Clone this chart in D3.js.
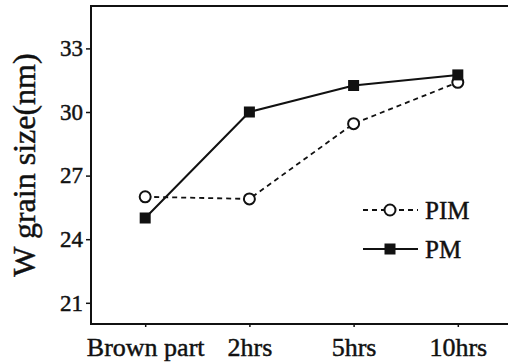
<!DOCTYPE html>
<html>
<head>
<meta charset="utf-8">
<script src="https://cdn.jsdelivr.net/npm/d3@7"></script>
<style>
  body { margin: 0; background: #fff; }
  text { font-family: "Liberation Serif", "Times New Roman", serif; fill: #111; stroke: #111; stroke-width: 0.45px; }
</style>
</head>
<body>
<div id="chart"></div>
<script>
// data
const categories = ['Brown part', '2hrs', '5hrs', '10hrs'];
const pimValues = [26.0, 25.9, 29.45, 31.4];
const pmValues = [25.0, 30.0, 31.25, 31.75];
const yTicks = [21, 24, 27, 30, 33];
const seriesNames = ['PIM', 'PM'];

const W = 508, H = 364;
const margin = { left: 91, top: 6, right: -4, bottom: 40 };

const svg = d3.select('#chart').append('svg')
  .attr('width', W)
  .attr('height', H);

const x = d3.scaleLinear()
  .domain([-0.52, categories.length - 0.48])
  .range([margin.left, W - margin.right]);
const y = d3.scaleLinear()
  .domain([20, 35])
  .range([H - margin.bottom, margin.top]);

// frame
svg.append('rect')
  .attr('x', x.range()[0])
  .attr('y', y.range()[1])
  .attr('width', x.range()[1] - x.range()[0])
  .attr('height', y.range()[0] - y.range()[1])
  .attr('fill', 'none')
  .attr('stroke', '#111')
  .attr('stroke-width', 2);

// y axis
const yAxis = svg.append('g')
  .attr('transform', `translate(${margin.left},0)`)
  .call(d3.axisLeft(y).tickValues(yTicks).tickSize(5).tickPadding(3));
yAxis.select('.domain').remove();
yAxis.selectAll('line').attr('stroke', '#111').attr('stroke-width', 1.5);
yAxis.selectAll('text').attr('font-size', 23);

// x axis
const xAxis = svg.append('g')
  .attr('transform', `translate(0,${y.range()[0]})`)
  .call(d3.axisBottom(x).tickValues(d3.range(categories.length))
    .tickFormat(i => categories[i]).tickSize(3).tickPadding(11));
xAxis.select('.domain').remove();
xAxis.selectAll('line').attr('stroke', '#111').attr('stroke-width', 1.5);
xAxis.selectAll('text').attr('font-size', 26);

// y label
svg.append('text')
  .attr('transform', 'translate(35,165) rotate(-90)')
  .attr('text-anchor', 'middle')
  .attr('font-size', 32)
  .text('W grain size(nm)');

const line = d3.line()
  .x((d, i) => x(i))
  .y(d => y(d));

// PIM dashed with open circles
svg.append('path')
  .datum(pimValues)
  .attr('d', line)
  .attr('fill', 'none')
  .attr('stroke', '#111')
  .attr('stroke-width', 1.8)
  .attr('stroke-dasharray', '5,4');

// PM solid with filled squares
svg.append('path')
  .datum(pmValues)
  .attr('d', line)
  .attr('fill', 'none')
  .attr('stroke', '#111')
  .attr('stroke-width', 2);

svg.selectAll('.pim')
  .data(pimValues)
  .enter().append('circle')
  .attr('class', 'pim')
  .attr('cx', (d, i) => x(i))
  .attr('cy', d => y(d))
  .attr('r', 5.5)
  .attr('fill', '#fff')
  .attr('stroke', '#111')
  .attr('stroke-width', 2);

svg.selectAll('.pm')
  .data(pmValues)
  .enter().append('rect')
  .attr('class', 'pm')
  .attr('x', (d, i) => x(i) - 5.5)
  .attr('y', d => y(d) - 5.5)
  .attr('width', 11)
  .attr('height', 11)
  .attr('fill', '#111');

// legend
const legend = svg.append('g').attr('transform', 'translate(363,0)');
const legendY = [210, 249];
seriesNames.forEach((name, k) => {
  const g = legend.append('g').attr('transform', `translate(0,${legendY[k]})`);
  g.append('line')
    .attr('x1', 0).attr('x2', 55)
    .attr('stroke', '#111')
    .attr('stroke-width', k === 0 ? 1.8 : 2)
    .attr('stroke-dasharray', k === 0 ? '5,4' : null);
  if (k === 0) {
    g.append('circle').attr('cx', 27).attr('r', 5.5)
      .attr('fill', '#fff').attr('stroke', '#111').attr('stroke-width', 2);
  } else {
    g.append('rect').attr('x', 21.5).attr('y', -5.5)
      .attr('width', 11).attr('height', 11).attr('fill', '#111');
  }
  g.append('text')
    .attr('x', 62)
    .attr('dy', '0.35em')
    .attr('font-size', 25)
    .text(name);
});
</script>
</body>
</html>
